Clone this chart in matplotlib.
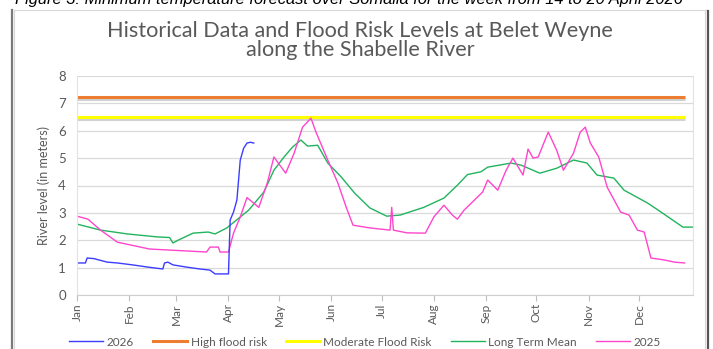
import matplotlib
matplotlib.use("Agg")
import matplotlib.pyplot as plt
import matplotlib.patheffects as pe
from matplotlib.lines import Line2D

# Day of year (Jan 1 = 0) and river level in metres
days_2025 = [0, 6.5, 14, 24, 43, 77, 79, 84, 85, 90, 93, 97, 101, 108, 113, 117,
             124, 129, 134, 139, 142, 149, 155, 160, 164, 174, 186, 187, 188, 196,
             207, 212, 218, 223, 226, 230, 238, 241, 244, 250, 255, 259, 265, 268,
             271, 274, 280, 285, 289, 295, 299, 302, 305, 310, 315, 323, 328, 333,
             337, 341, 349, 355, 361]
level_2025 = [2.88, 2.77, 2.37, 1.93, 1.68, 1.57, 1.75, 1.75, 1.57, 1.57, 2.26, 2.85,
              3.56, 3.2, 4.08, 5.04, 4.45, 5.18, 6.13, 6.46, 5.95, 4.93, 4.09, 3.2,
              2.55, 2.45, 2.37, 3.2, 2.37, 2.27, 2.26, 2.85, 3.28, 2.92, 2.77, 3.1,
              3.58, 3.76, 4.2, 3.83, 4.56, 5.0, 4.38, 5.33, 5.0, 5.04, 5.95, 5.29,
              4.56, 5.18, 5.95, 6.13, 5.55, 5.04, 3.94, 3.03, 2.92, 2.37, 2.3, 1.35,
              1.28, 1.2, 1.17]

days_mean = [0, 14, 30, 48, 55, 57, 60, 69, 78, 82, 89, 91, 102, 111, 117, 123, 128,
             133, 137, 143, 149, 157, 165, 174, 184, 192, 206, 218, 226, 232, 240,
             244, 258, 264, 275, 285, 295, 303, 309, 319, 325, 339, 347, 360, 366]
level_mean = [2.59, 2.37, 2.23, 2.12, 2.1, 1.9, 2.0, 2.26, 2.3, 2.23, 2.45, 2.55, 3.1,
              3.76, 4.56, 5.04, 5.4, 5.66, 5.44, 5.47, 4.82, 4.31, 3.72, 3.18, 2.88,
              2.92, 3.2, 3.54, 4.01, 4.4, 4.5, 4.67, 4.82, 4.74, 4.45, 4.63, 4.93,
              4.82, 4.38, 4.27, 3.83, 3.36, 3.03, 2.48, 2.48]

days_2026 = [0, 5, 6, 10, 18, 24, 33, 42, 51, 52, 54, 57, 65, 73, 79, 82, 90, 91, 93,
             95, 97, 99, 101, 103, 105]
level_2026 = [1.17, 1.17, 1.35, 1.33, 1.2, 1.17, 1.1, 1.02, 0.95, 1.17, 1.2, 1.1, 1.02,
              0.95, 0.91, 0.77, 0.77, 2.74, 3.03, 3.47, 4.93, 5.36, 5.55, 5.58, 5.55]

risk_days = [0, 361]
high_risk = [7.25, 7.25]
moderate_risk = [6.5, 6.5]

month_starts = [0, 31, 59, 90, 120, 151, 181, 212, 243, 273, 304, 334]
month_names = ["Jan", "Feb", "Mar", "Apr", "May", "Jun", "Jul", "Aug", "Sep",
               "Oct", "Nov", "Dec"]

caption = ("Figure 3: Minimum temperature forecast over Somalia for the week "
           "from 14 to 20 April 2026")
title_lines = ["Historical Data and Flood Risk Levels at Belet Weyne",
               "along the Shabelle River"]

W, H = 713, 349
gray = "#595959"
font = "Lato"

fig = plt.figure(figsize=(W / 100, H / 100), dpi=100)
ax = fig.add_axes([77 / W, 1 - 295 / H, (693 - 77) / W, (295 - 76) / H])

shadow = [pe.SimpleLineShadow(offset=(0, -1.5), shadow_color="#999999", alpha=0.45),
          pe.Normal()]

ax.plot(risk_days, high_risk, color="#ED7D31", lw=2.2, path_effects=shadow,
        solid_capstyle="butt")
ax.plot(risk_days, moderate_risk, color="#FFFF00", lw=2.2, path_effects=shadow,
        solid_capstyle="butt")
ax.plot(days_mean, level_mean, color="#22B35E", lw=1.0)
ax.plot(days_2025, level_2025, color="#FF45CC", lw=1.0)
ax.plot(days_2026, level_2026, color="#3C3CFF", lw=1.0)

ax.set_xlim(0, 366)
ax.set_ylim(0, 8)
ax.set_yticks(range(0, 9))
ax.set_xticks(month_starts)
ax.set_xticklabels(month_names, rotation=90, fontsize=8.5, color=gray, family=font)
for lab in ax.get_yticklabels():
    lab.set_fontsize(9.5)
    lab.set_color(gray)
    lab.set_family(font)
ax.tick_params(axis="y", length=0, pad=8)
ax.tick_params(axis="x", length=4, color="#bfbfbf", pad=2)
ax.grid(axis="y", color="#d9d9d9", lw=0.9)
ax.set_axisbelow(True)
for side in ["left", "right"]:
    ax.spines[side].set_color("#e3e3e3")
    ax.spines[side].set_linewidth(0.8)
ax.spines["top"].set_visible(False)
ax.spines["bottom"].set_color("#d0d0d0")
ax.set_ylabel("River level (in meters)", fontsize=9, color=gray, family=font,
              labelpad=6)

# two-line title, one baseline each
for text, base in zip(title_lines, [37, 56]):
    fig.text(360 / W, 1 - base / H, text, ha="center", va="baseline",
             fontsize=15.6, color=gray, family=font)

# caption of the surrounding document, clipped by the top edge
cap = fig.text(15 / W, 1 - 4 / H, caption, ha="left", va="baseline", fontsize=11,
               style="italic", family="Liberation Sans", color="black")
fig.canvas.draw()
w = cap.get_window_extent().width
cap.set_fontsize(11 * (668 / w))

# frame around the chart
frame = dict(transform=fig.transFigure, figure=fig)
fig.lines += [
    Line2D([14 / W, 706 / W], [1 - 10 / H, 1 - 10 / H], color="#d9d9d9", lw=0.8, **frame),
    Line2D([14 / W, 14 / W], [0, 1 - 10 / H], color="#d9d9d9", lw=0.8, **frame),
    Line2D([11.5 / W, 11.5 / W], [0, 1 - 10 / H], color="#7a7a7a", lw=1.6, **frame),
    Line2D([707.5 / W, 707.5 / W], [0, 1 - 11 / H], color="#555555", lw=1.6, **frame),
    Line2D([705 / W, 705 / W], [0, 1 - 10 / H], color="#d9d9d9", lw=0.8, **frame),
]

handles = [Line2D([], [], color="#3C3CFF", lw=1.0),
           Line2D([], [], color="#ED7D31", lw=2.2),
           Line2D([], [], color="#FFFF00", lw=2.2),
           Line2D([], [], color="#22B35E", lw=1.0),
           Line2D([], [], color="#FF45CC", lw=1.0)]
labels = ["2026", "High flood risk", "Moderate Flood Risk", "Long Term Mean", "2025"]
fig.legend(handles, labels, loc="center", bbox_to_anchor=(365 / W, 1 - 342 / H),
           ncol=5, frameon=False, prop={"family": font, "size": 8.5},
           handlelength=2.9, handletextpad=0.3, columnspacing=1.6, labelcolor=gray)

fig.savefig("out.png", dpi=100)
